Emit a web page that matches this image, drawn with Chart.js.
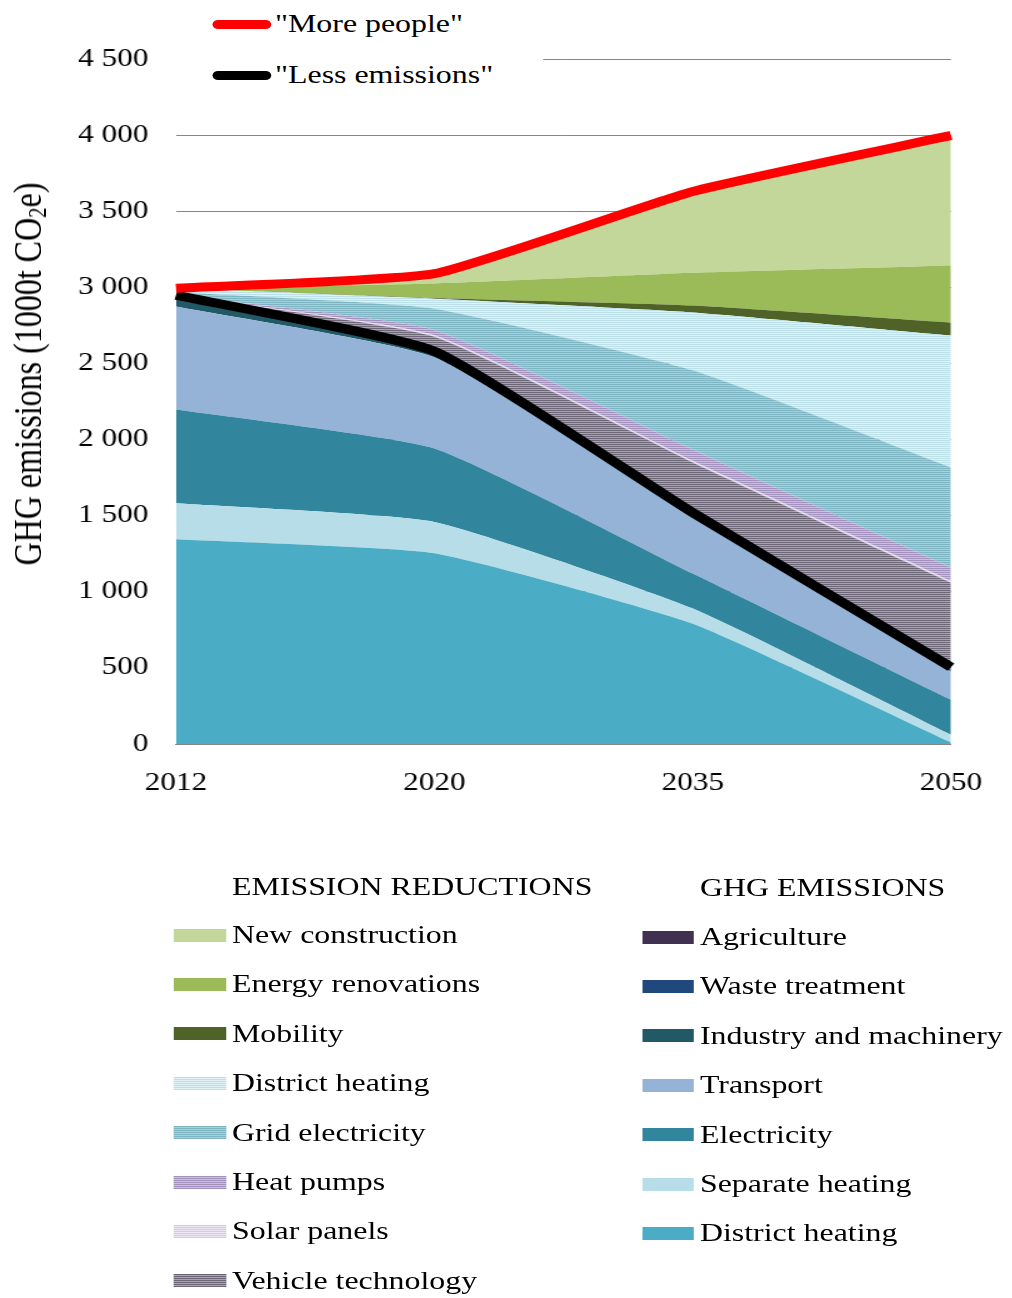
<!DOCTYPE html>
<html>
<head>
<meta charset="utf-8">
<script src="https://cdn.jsdelivr.net/npm/chart.js@4.4.1/dist/chart.umd.min.js"></script>
<style>
  html, body { margin: 0; padding: 0; background: #fff; }
  body { width: 1012px; height: 1298px; overflow: hidden; }
  /* the whole figure is laid out 810px wide and stretched to the page width */
  #page {
    position: relative; width: 810px; height: 1298px;
    transform: scaleX(1.25); transform-origin: 0 0;
    font-family: "Liberation Serif", "Times New Roman", serif; color: #000;
  }
  #chartBox { position: absolute; left: 0; top: 0; width: 810px; height: 800px; }
  #ytitle {
    position: absolute; left: 22px; top: 374px; white-space: nowrap;
    font-size: 32px; line-height: 1;
    transform: translate(-50%, -50%) rotate(-90deg);
  }
  #ytitle sub { font-size: 0.65em; vertical-align: -0.2em; line-height: 0; }
  #topLegend { position: absolute; left: 125px; top: 0; width: 309px; height: 100px; background: #fff; }
  .lineKey { position: absolute; height: 9px; width: 47px; border-radius: 4.5px; }
  .lineText { position: absolute; font-size: 25.5px; line-height: 30px; white-space: nowrap; }
  .head { position: absolute; font-size: 25.5px; line-height: 30px; white-space: nowrap; }
  .row { position: absolute; height: 40px; display: flex; align-items: center; white-space: nowrap; font-size: 25.5px; }
  .sw { width: 41.6px; height: 13px; margin-right: 4.8px; flex: none; }
</style>
</head>
<body>
<div id="page">
  <div id="chartBox"><canvas id="chart"></canvas></div>
  <div id="ytitle">GHG emissions (1000t CO<sub>2</sub>e)</div>
  <div id="topLegend"></div>
  <div id="bottomLegend"></div>
</div>
<script>
const years = ["2012", "2020", "2035", "2050"];

// GHG emissions, 1000 t CO2e (bottom of the stack upwards)
const districtHeating = [1345, 1253, 790, 10];
const separateHeating = [236, 206, 100, 50];
const electricity = [617, 483, 230, 230];
const transport = [676, 598, 370, 185];
const industryMachinery = [45, 25, 15, 15];
const wasteTreatment = [15, 8, 8, 8];
const agriculture = [15, 7, 7, 7];

// emission reductions stacked on top of the remaining emissions
const vehicleTechnology = [0, 95, 330, 555];
const solarPanels = [0, 10, 10, 10];
const heatPumps = [0, 35, 75, 90];
const gridElectricity = [20, 140, 520, 657];
const districtHeatingRed = [25, 65, 380, 866];
const mobility = [0, 5, 45, 85];
const energyRenovations = [0, 95, 215, 375];
const newConstruction = [0, 65, 535, 855];

const yTicks = [0, 500, 1000, 1500, 2000, 2500, 3000, 3500, 4000, 4500];

const emissionNames = ["District heating", "Separate heating", "Electricity", "Transport",
  "Industry and machinery", "Waste treatment", "Agriculture"];
const emissionSeries = [districtHeating, separateHeating, electricity, transport,
  industryMachinery, wasteTreatment, agriculture];
const emissionColors = ["#4bacc6", "#b7dee8", "#31859c", "#95b3d7", "#215967", "#1f497d", "#403151"];

const reductionNames = ["Vehicle technology", "Solar panels", "Heat pumps", "Grid electricity",
  "District heating", "Mobility", "Energy renovations", "New construction"];
const reductionSeries = [vehicleTechnology, solarPanels, heatPumps, gridElectricity,
  districtHeatingRed, mobility, energyRenovations, newConstruction];
// textured fills are two tones in alternating 1px rows; solid fills repeat the colour
const reductionDark = ["#6c6676", "#d3cae0", "#a290bd", "#7db6c2", "#bde0e9", "#4f6228", "#9bbb59", "#c4d79b"];
const reductionLight = ["#a8a2b1", "#ede8f4", "#ccc0dc", "#a7d0d9", "#e0f1f5", "#4f6228", "#9bbb59", "#c4d79b"];

const sumSeries = list => years.map((_, i) => list.reduce((s, arr) => s + arr[i], 0));
const lessEmissions = sumSeries(emissionSeries);
const morePeople = sumSeries(emissionSeries.concat(reductionSeries));

const FONT = '"Liberation Serif", "Times New Roman", serif';
const ctx = document.getElementById("chart").getContext("2d");

// rows instead of dots so the fill stays even under the horizontal stretch
function texture(dark, light) {
  if (dark === light) return dark;
  const c = document.createElement("canvas");
  c.width = 1; c.height = 2;
  const g = c.getContext("2d");
  g.fillStyle = light; g.fillRect(0, 0, 1, 2);
  g.fillStyle = dark; g.fillRect(0, 0, 1, 1);
  return ctx.createPattern(c, "repeat");
}

const TENSION = 0.15;
const areaDatasets = [];
emissionSeries.forEach((data, i) => {
  areaDatasets.push({
    label: emissionNames[i], data, stack: "ghg",
    backgroundColor: emissionColors[i], borderWidth: 0, pointRadius: 0, tension: TENSION,
  });
});
reductionSeries.forEach((data, i) => {
  areaDatasets.push({
    label: reductionNames[i], data, stack: "ghg",
    backgroundColor: texture(reductionDark[i], reductionLight[i]),
    borderWidth: 0, pointRadius: 0, tension: TENSION,
  });
});
areaDatasets.forEach((ds, i) => { ds.fill = i === 0 ? "origin" : "-1"; });

const lineDatasets = [
  { label: '"More people"', data: morePeople, stack: "more", borderColor: "#ff0000",
    borderWidth: 9, fill: false, pointRadius: 0, tension: TENSION, borderJoinStyle: "round" },
  { label: '"Less emissions"', data: lessEmissions, stack: "less", borderColor: "#000000",
    borderWidth: 9, fill: false, pointRadius: 0, tension: TENSION, borderJoinStyle: "round" },
];

new Chart(ctx, {
  type: "line",
  data: { labels: years, datasets: lineDatasets.concat(areaDatasets) },
  options: {
    responsive: true,
    maintainAspectRatio: false,
    devicePixelRatio: 1,
    animation: false,
    layout: { padding: { top: 59, right: 49.2, bottom: 0, left: 0 } },
    plugins: { legend: { display: false }, tooltip: { enabled: false } },
    scales: {
      x: {
        offset: false,
        grid: { display: false },
        border: { display: true, color: "#868686", width: 1 },
        ticks: { color: "#000", font: { family: FONT, size: 25 }, padding: 16, maxRotation: 0 },
        afterFit: s => { s.height = 56; },
      },
      y: {
        stacked: true,
        min: 0,
        max: 4500,
        afterBuildTicks: s => { s.ticks = yTicks.map(v => ({ value: v })); },
        grid: { color: "#868686", lineWidth: 1, drawTicks: false },
        border: { display: false },
        ticks: {
          color: "#000", font: { family: FONT, size: 25 }, padding: 22,
          callback: v => String(v).replace(/\B(?=(\d{3})+(?!\d))/g, " "),
        },
        afterFit: s => { s.width = 140.8; },
      },
    },
  },
});

// legend for the two scenario lines
const topLegend = document.getElementById("topLegend");
[[lineDatasets[0], 24], [lineDatasets[1], 75]].forEach(([ds, y]) => {
  const key = document.createElement("div");
  key.className = "lineKey";
  key.style.left = (170.4 - 125) + "px";
  key.style.top = (y - 4.5) + "px";
  key.style.background = ds.borderColor;
  topLegend.appendChild(key);
  const txt = document.createElement("div");
  txt.className = "lineText";
  txt.style.left = (220 - 125) + "px";
  txt.style.top = (y - 15) + "px";
  txt.textContent = ds.label;
  topLegend.appendChild(txt);
});

// two-column legend below the chart
const bottomLegend = document.getElementById("bottomLegend");
function swatchStyle(dark, light) {
  if (dark === light) return "background:" + dark;
  return "background-color:" + light + ";background-image:repeating-linear-gradient(to bottom, " +
    dark + " 0px 1px, " + light + " 1px 2px)";
}
function addHead(text, x, y) {
  const h = document.createElement("div");
  h.className = "head";
  h.style.left = x + "px";
  h.style.top = (y - 15) + "px";
  h.textContent = text;
  bottomLegend.appendChild(h);
}
function addRow(name, style, x, y) {
  const r = document.createElement("div");
  r.className = "row";
  r.style.left = x + "px";
  r.style.top = (y - 20) + "px";
  r.innerHTML = '<div class="sw" style="' + style + '"></div><span></span>';
  r.lastChild.textContent = name;
  bottomLegend.appendChild(r);
}
addHead("EMISSION REDUCTIONS", 185.6, 887);
addHead("GHG EMISSIONS", 560, 888);
for (let k = 0; k < reductionNames.length; k++) {
  const i = reductionNames.length - 1 - k;
  addRow(reductionNames[i], swatchStyle(reductionDark[i], reductionLight[i]), 139.2, 935 + k * 49.4);
}
for (let k = 0; k < emissionNames.length; k++) {
  const i = emissionNames.length - 1 - k;
  addRow(emissionNames[i], swatchStyle(emissionColors[i], emissionColors[i]), 513.6, 937 + k * 49.4);
}
</script>
</body>
</html>
